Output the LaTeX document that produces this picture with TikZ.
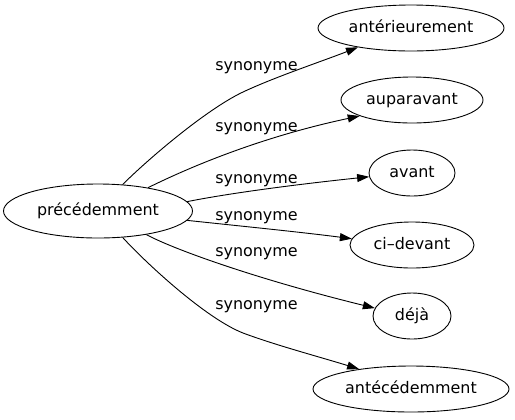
\documentclass[tikz,border=0pt]{standalone}
\usepackage{fontspec}
\setmainfont{DejaVu Sans}
\usetikzlibrary{shapes.geometric,arrows.meta}
\begin{document}
\begin{tikzpicture}[x=1bp,y=-1bp,
  word/.style={draw, ellipse, inner sep=0pt, line width=0.9bp, minimum height=46bp,
    font=\fontsize{16}{19}\selectfont, text height=11.5bp, text depth=3.5bp},
  lbl/.style={font=\fontsize{16}{19}\selectfont, anchor=base, inner sep=0pt},
  syn/.style={draw, line width=0.9bp, -{Triangle[length=12bp,width=8bp]}}]
\useasboundingbox (0,0) rectangle (515,419);
\node[word, minimum width=189bp, minimum height=54bp] (src) at (98,211) {précédemment};
\node[word, minimum width=186bp] (t1) at (411,28) {antérieurement};
\node[word, minimum width=142bp] (t2) at (412,100) {auparavant};
\node[word, minimum width=86bp] (t3) at (412,173) {avant};
\node[word, minimum width=124bp] (t4) at (412,245) {ci–devant};
\node[word, minimum width=78bp] (t5) at (412,316) {déjà};
\node[word, minimum width=196bp] (t6) at (411,389) {antécédemment};
\node[lbl] (l1) at (256.5,70.5) {synonyme};
\node[lbl] (l2) at (256.5,131.5) {synonyme};
\node[lbl] (l3) at (256.5,183.5) {synonyme};
\node[lbl] (l4) at (256.5,220) {synonyme};
\node[lbl] (l5) at (256.5,256) {synonyme};
\node[lbl] (l6) at (256.5,309) {synonyme};
\draw[syn] (src.47) .. controls (145,162) and (205,110) .. (243,92) .. controls (275,77) and (320,62) .. (t1.200);
\draw[syn] (src.25) .. controls (200,162) and (270,135) .. (t2.197);
\draw[syn] (src.6) .. controls (230,193) and (300,184) .. (t3.185);
\draw[syn] (src.-6) .. controls (240,226) and (300,232) .. (t4.174);
\draw[syn] (src.-26) .. controls (175,250) and (260,280) .. (t5.168);
\draw[syn] (src.-47) .. controls (145,262) and (205,318) .. (243,333) .. controls (275,345) and (320,357) .. (t6.159);
\end{tikzpicture}
\end{document}
